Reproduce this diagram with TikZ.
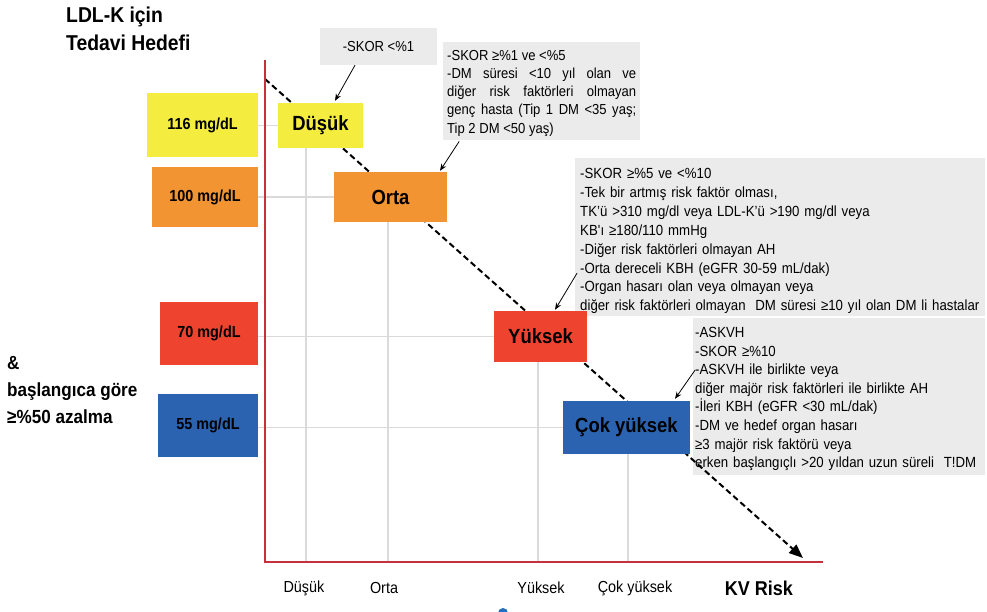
\documentclass[tikz,border=0pt]{standalone}
\usepackage{fontspec}
\setmainfont{Liberation Sans}[FakeStretch=0.9]
\usetikzlibrary{arrows.meta,calc}
\definecolor{lowyellow}{HTML}{F4ED40}
\definecolor{midorange}{HTML}{F39433}
\definecolor{highred}{HTML}{EE442F}
\definecolor{vhighblue}{HTML}{2C63B1}
\definecolor{notegray}{HTML}{EBEBEB}
\definecolor{gridgray}{HTML}{DADADA}
\definecolor{axisred}{HTML}{C5303C}
\definecolor{dotblue}{HTML}{1F6FC5}
\pgfdeclarelayer{background}
\pgfsetlayers{background,main}
\newcommand\fsz[2]{\fontsize{#1}{#2}\selectfont}

\begin{document}
\begin{tikzpicture}[x=1pt,y=-1pt,
  target/.style={inner sep=0pt, font=\fsz{16}{19}\bfseries},
  risk/.style={inner sep=0pt, font=\fsz{20.5}{24}\bfseries},
  note/.style={fill=notegray, inner sep=0pt, anchor=north west},
  gridline/.style={gridgray, line width=1.4pt},
  axisline/.style={axisred, line width=1.8pt, line join=miter},
  pointer/.style={-{Stealth[length=7pt,width=5.5pt]}, line width=0.8pt},
  trend/.style={line width=2pt, dash pattern=on 6pt off 3.5pt, -{Triangle[length=14pt,width=11pt]}},
  ticklabel/.style={font=\fsz{16}{19}},
  heading/.style={align=left, inner sep=0pt, anchor=west},
]
\useasboundingbox (0,0) rectangle (987,612);

% headings on the left
\node[heading, font=\fsz{21.5}{28}\bfseries] (title) at (66,29) {LDL-K için\\Tedavi Hedefi};
\node[heading, font=\fsz{19}{27}\bfseries] (reduce) at (7,390) {\&\\başlangıca göre\\≥\%50 azalma};

% LDL-C target boxes
\node[target, fill=lowyellow, minimum width=111pt, minimum height=64pt] (t116) at (202.5,125) {116 mg/dL};
\node[target, fill=midorange, minimum width=106pt, minimum height=60pt] (t100) at (205,197) {100 mg/dL};
\node[target, fill=highred, minimum width=98pt, minimum height=63pt] (t70) at (209,333.5) {70 mg/dL};
\node[target, fill=vhighblue, minimum width=100pt, minimum height=63pt] (t55) at (208,425.5) {55 mg/dL};

% criteria notes
\node[note, anchor=center, minimum width=117pt, minimum height=37pt, font=\fsz{14.5}{17}] (n1) at (378.5,46.5) {-SKOR <\%1};
\node[note, text width=189pt, inner xsep=4pt, minimum height=98pt, align=justify, font=\fsz{14.5}{18.2}] (n2) at (443,42)
  {\rule{0pt}{14pt}-SKOR ≥\%1 ve <\%5\\
   -DM süresi <10 yıl olan ve\linebreak
   diğer risk faktörleri olmayan\linebreak
   genç hasta (Tip 1 DM <35 yaş;\linebreak
   Tip 2 DM <50 yaş)};
\node[note, text width=400pt, inner xsep=5pt, minimum height=158pt, align=left, font=\fsz{14.7}{18.9}] (n3) at (575,158)
  {\rule{0pt}{18pt}-SKOR ≥\%5 ve <\%10\\
   -Tek bir artmış risk faktör olması,\\
   TK'ü >310 mg/dl veya LDL-K'ü >190 mg/dl veya\\
   KB\textquotesingle ı ≥180/110 mmHg\\
   -Diğer risk faktörleri olmayan AH\\
   -Orta dereceli KBH (eGFR 30-59 mL/dak)\\
   -Organ hasarı olan veya olmayan veya\\
   diğer risk faktörleri olmayan\ \ DM süresi ≥10 yıl olan DM li hastalar};
\node[note, text width=288pt, inner xsep=2pt, minimum height=157pt, align=left, font=\fsz{14.7}{18.6}] (n4) at (693,318)
  {\rule{0pt}{15pt}-ASKVH\\
   -SKOR ≥\%10\\
   -ASKVH ile birlikte veya\\
   diğer majör risk faktörleri ile birlikte AH\\
   -İleri KBH (eGFR <30 mL/dak)\\
   -DM ve hedef organ hasarı\\
   ≥3 majör risk faktörü veya\\
   erken başlangıçlı >20 yıldan uzun süreli\ \ T!DM};

% rising-risk trend
\coordinate (trendstart) at (265,79);
\coordinate (trendend) at (803,558);
\draw[trend] (trendstart) -- (trendend);

% risk category boxes
\node[risk, fill=lowyellow, minimum width=85pt, minimum height=45pt] (low) at (320.5,125.5) {Düşük};
\node[risk, fill=midorange, minimum width=113pt, minimum height=50pt] (mid) at (390.5,197) {Orta};
\node[risk, fill=highred, minimum width=93pt, minimum height=51pt] (high) at (540.5,336.5) {Yüksek};
\node[risk, fill=vhighblue, minimum width=127pt, minimum height=53pt] (vhigh) at (626.5,427.5) {Çok yüksek};

% axes
\coordinate (O) at (265,562);
\coordinate (ytop) at (265,60);
\coordinate (xend) at (823,562);

% guide lines behind everything
\begin{pgfonlayer}{background}
  \draw[gridline] (t116.east |- low.west) -- (low.west);
  \draw[gridline] (t100.east |- mid.west) -- (mid.west);
  \draw[gridline] (t70.east |- high.west) -- (high.west);
  \draw[gridline] (t55.east |- vhigh.west) -- (vhigh.west);
  \draw[gridline] ([xshift=-14.5pt]low.south) -- ([xshift=-14.5pt]low.south |- O);
  \draw[gridline] ([xshift=-2.5pt]mid.south) -- ([xshift=-2.5pt]mid.south |- O);
  \draw[gridline] ([xshift=-2.5pt]high.south) -- ([xshift=-2.5pt]high.south |- O);
  \draw[gridline] ([xshift=1.5pt]vhigh.south) -- ([xshift=1.5pt]vhigh.south |- O);
\end{pgfonlayer}

\draw[axisline] (ytop) -- (O) -- (xend);

% axis labels
\node[ticklabel] (lbllow) at (304,588) {Düşük};
\node[ticklabel] (lblmid) at (384,588) {Orta};
\node[ticklabel] (lblhigh) at (541,588) {Yüksek};
\node[ticklabel] (lblvhigh) at (635,588) {Çok yüksek};
\node[font=\fsz{20}{24}\bfseries] (kvrisk) at (759,588) {KV Risk};

% pointers from notes to categories
\draw[pointer] ($(n1.south)+(-23.5,0)$) -- ($(low.north)+(14.5,-2)$);
\draw[pointer] ($(n2.south)+(-82.5,1)$) -- ($(mid.north)+(49.5,-1)$);
\draw[pointer] ($(n3.west)+(2,36)$) -- ($(high.north)+(14.5,-1)$);
\draw[pointer] ($(n4.west)+(2,-26.5)$) -- ($(vhigh.north)+(48.5,-2)$);

% marker at the bottom edge
\fill[dotblue] (503,613) circle (5pt);
\end{tikzpicture}
\end{document}
